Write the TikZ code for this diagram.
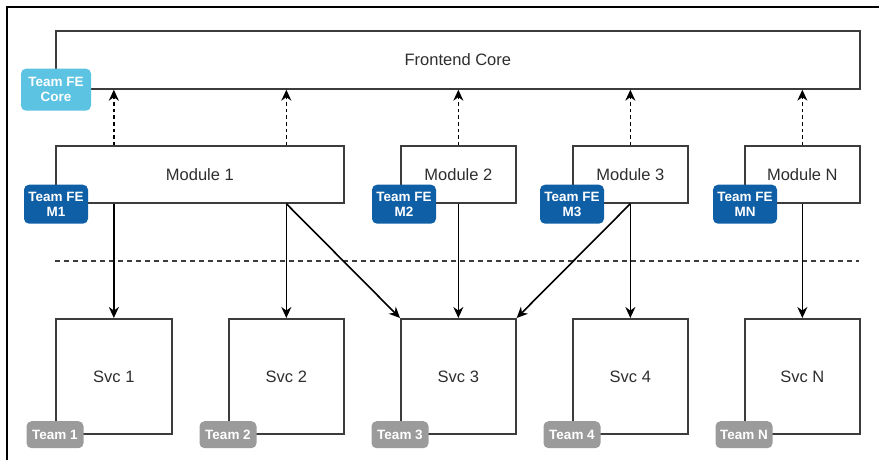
\documentclass[tikz,border=0pt]{standalone}
\usepackage{fontspec}
\setmainfont{Liberation Sans}
\usetikzlibrary{arrows.meta}
\definecolor{boxline}{HTML}{3C3C3C}
\definecolor{txt}{HTML}{2E2E2E}
\definecolor{feblue}{HTML}{5CC3E3}
\definecolor{mblue}{HTML}{0F5FA6}
\definecolor{tgrey}{HTML}{9B9B9B}
\begin{document}
\begin{tikzpicture}[x=1pt,y=-1pt,
  box/.style={draw=boxline, line width=1.7pt, fill=white, inner sep=0pt, text=txt,
    font=\fontsize{16.5}{19}\selectfont, anchor=north west},
  badge/.style={rounded corners=5pt, text=white, inner sep=0pt, align=center,
    font=\bfseries\fontsize{13.5}{15}\selectfont},
  febadge/.style={badge, fill=feblue, minimum width=70pt, minimum height=42pt},
  mbadge/.style={badge, fill=mblue, minimum width=64pt, minimum height=39pt},
  tbadge/.style={badge, fill=tgrey, minimum width=57pt, minimum height=27pt},
  arr/.style={draw=black, line width=1.6pt, -{Stealth[length=11pt,width=10pt]}},
  darr/.style={arr, dash pattern=on 3.5pt off 3pt},
  sep/.style={draw=boxline, line width=1.6pt, dash pattern=on 5pt off 4pt}]
\useasboundingbox (0,0) rectangle (879,460);
\draw[line width=2pt] (7,460) -- (7,7) -- (879,7);

\node[box, minimum width=804pt, minimum height=58pt] (fe) at (55,30) {Frontend Core};
\node[box, minimum width=288pt, minimum height=57pt] (m1) at (55,145) {Module 1};
\node[box, minimum width=115pt, minimum height=57pt] (m2) at (400,145) {Module 2};
\node[box, minimum width=115pt, minimum height=57pt] (m3) at (572,145) {Module 3};
\node[box, minimum width=115pt, minimum height=57pt] (mn) at (744,145) {Module N};

\node[box, minimum width=116pt, minimum height=115pt] (s1) at (55,318) {Svc 1};
\node[box, minimum width=115pt, minimum height=115pt] (s2) at (228,318) {Svc 2};
\node[box, minimum width=115pt, minimum height=115pt] (s3) at (400,318) {Svc 3};
\node[box, minimum width=115pt, minimum height=115pt] (s4) at (572,318) {Svc 4};
\node[box, minimum width=115pt, minimum height=115pt] (sn) at (744,318) {Svc N};

% dashed separator
\coordinate (dl) at (55,261);
\coordinate (dr) at (859,261);
\draw[sep] (dl) -- (dr);

% dashed dependencies to core
\draw[darr] (s1.north |- m1.north) -- (s1.north |- fe.south);
\draw[darr] (s2.north |- m1.north) -- (s2.north |- fe.south);
\draw[darr] (m2.north) -- (m2.north |- fe.south);
\draw[darr] (m3.north) -- (m3.north |- fe.south);
\draw[darr] (mn.north) -- (mn.north |- fe.south);

% service calls
\draw[arr] (s1.north |- m1.south) -- (s1.north);
\draw[arr] (s2.north |- m1.south) -- (s2.north);
\draw[arr] (s2.north |- m1.south) -- (s3.north west);
\draw[arr] (m2.south) -- (s3.north);
\draw[arr] (m3.south) -- (s3.north east);
\draw[arr] (m3.south) -- (s4.north);
\draw[arr] (mn.south) -- (sn.north);

% badges
\node[febadge] (bfe) at ([xshift=1pt]fe.south west) {Team FE\\Core};
\node[mbadge] (bm1) at ([xshift=1pt,yshift=-0.5pt]m1.south west) {Team FE\\M1};
\node[mbadge] (bm2) at ([xshift=4pt,yshift=-0.5pt]m2.south west) {Team FE\\M2};
\node[mbadge] (bm3) at ([yshift=-0.5pt]m3.south west) {Team FE\\M3};
\node[mbadge] (bmn) at ([xshift=1pt,yshift=-0.5pt]mn.south west) {Team FE\\MN};

\node[tbadge] (t1) at (s1.south west) {Team 1};
\node[tbadge] (t2) at (s2.south west) {Team 2};
\node[tbadge] (t3) at (s3.south west) {Team 3};
\node[tbadge] (t4) at (s4.south west) {Team 4};
\node[tbadge] (tn) at (sn.south west) {Team N};
\end{tikzpicture}
\end{document}
